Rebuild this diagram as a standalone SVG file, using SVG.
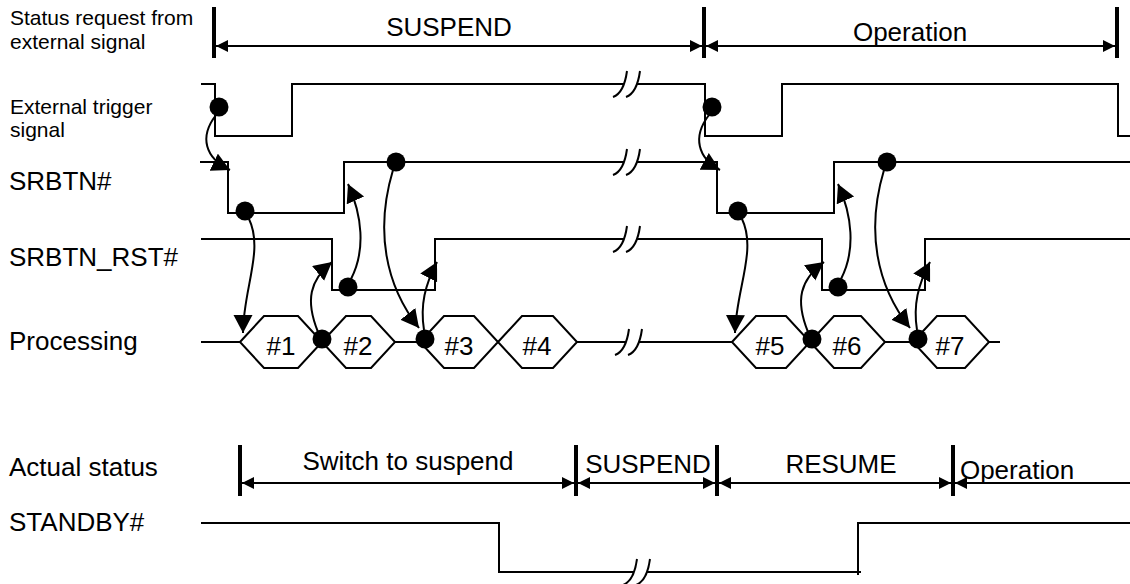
<svg xmlns="http://www.w3.org/2000/svg" width="1130" height="584" viewBox="0 0 1130 584">
  <style>
    .lbl{font-family:"Liberation Sans",Arial,sans-serif;font-size:26px;fill:#000}
    .sm{font-size:21px}
    .mid{text-anchor:middle}
    .sig{fill:none;stroke:#000;stroke-width:2}
    .bar{stroke:#000;stroke-width:4}
    .dim{stroke:#000;stroke-width:2;fill:none}
    .hex{fill:#fff;stroke:#000;stroke-width:2}
    .arc{fill:none;stroke:#000;stroke-width:2}
    .dot{fill:#000}
  </style>
  <defs>
    <!-- dimension arrowhead (both ends) -->
    <marker id="dimhead" markerUnits="userSpaceOnUse" markerWidth="12" markerHeight="12" refX="12" refY="6" orient="auto-start-reverse">
      <path d="M0,0 L12,6 L0,12 z" fill="#000"/>
    </marker>
    <!-- causal arrowhead -->
    <marker id="tip" markerUnits="userSpaceOnUse" markerWidth="20" markerHeight="20" refX="18" refY="9.5" orient="auto">
      <path d="M0,0 L18,9.5 L0,19 z" fill="#000"/>
    </marker>
    <!-- time-break mark: white gap plus two curved strokes -->
    <g id="brk">
      <path d="M-11,13 Q0,9 3,-13 L16,-13 Q13,9 2,13 Z" fill="#fff" stroke="none"/>
      <path d="M-11,13 Q0,9 3,-13 M2,13 Q13,9 16,-13" fill="none" stroke="#000" stroke-width="2"/>
    </g>
  </defs>

  <!-- row labels -->
  <g id="labels">
    <text class="lbl sm" x="10" y="25">Status request from</text>
    <text class="lbl sm" x="10" y="49">external signal</text>
    <text class="lbl sm" x="10" y="114">External trigger</text>
    <text class="lbl sm" x="10" y="137">signal</text>
    <text class="lbl" x="9" y="190">SRBTN#</text>
    <text class="lbl" x="9" y="266">SRBTN_RST#</text>
    <text class="lbl" x="9" y="350">Processing</text>
    <text class="lbl" x="9" y="476">Actual status</text>
    <text class="lbl" x="9" y="531">STANDBY#</text>
  </g>

  <!-- status request spans -->
  <g id="request">
    <line class="bar" x1="214" y1="7" x2="214" y2="58"/>
    <line class="bar" x1="704" y1="7" x2="704" y2="58"/>
    <line class="bar" x1="1117" y1="7" x2="1117" y2="58"/>
    <line class="dim" x1="216" y1="46" x2="702" y2="46" marker-start="url(#dimhead)" marker-end="url(#dimhead)"/>
    <line class="dim" x1="706" y1="46" x2="1115" y2="46" marker-start="url(#dimhead)" marker-end="url(#dimhead)"/>
    <text class="lbl mid" x="449" y="36">SUSPEND</text>
    <text class="lbl mid" x="910" y="41">Operation</text>
  </g>

  <!-- signal waveforms -->
  <g id="waves">
    <path id="trigger" class="sig" d="M201,84 H215 V136 H292 V84 H705 V136 H782 V84 H1118 V136 H1130"/>
    <path id="srbtn" class="sig" d="M200,162 H228 V213 H344 V162 H717 V213 H834 V162 H1130"/>
    <path id="srbtn-rst" class="sig" d="M201,239 H332 V290 H435 V239 H822 V290 H925 V239 H1130"/>
    <path id="standby" class="sig" d="M201,523 H499 V572 H861 M858,575 V523 H1130"/>
    <path id="proc-line" class="sig" d="M201,342 H240 M395,342 H420 M577,342 H732 M885,342 H913 M989,342 H1000"/>
    <use href="#brk" x="624" y="84"/>
    <use href="#brk" x="624" y="162"/>
    <use href="#brk" x="624" y="239"/>
    <use href="#brk" x="626" y="342"/>
    <use href="#brk" x="634" y="572"/>
  </g>

  <!-- processing steps -->
  <g id="step1"><polygon class="hex" points="240,342 264,316 298,316 322,342 298,368 264,368"/><text class="lbl mid" x="281" y="355">#1</text></g>
  <g id="step2"><polygon class="hex" points="322,342 346,316 371,316 395,342 371,368 346,368"/><text class="lbl mid" x="358" y="355">#2</text></g>
  <g id="step3"><polygon class="hex" points="420,342 444,316 474,316 498,342 474,368 444,368"/><text class="lbl mid" x="459" y="355">#3</text></g>
  <g id="step4"><polygon class="hex" points="498,342 522,316 553,316 577,342 553,368 522,368"/><text class="lbl mid" x="537" y="355">#4</text></g>
  <g id="step5"><polygon class="hex" points="732,342 756,316 786,316 810,342 786,368 756,368"/><text class="lbl mid" x="770" y="355">#5</text></g>
  <g id="step6"><polygon class="hex" points="810,342 834,316 861,316 885,342 861,368 834,368"/><text class="lbl mid" x="847" y="355">#6</text></g>
  <g id="step7"><polygon class="hex" points="913,342 937,316 965,316 989,342 965,368 937,368"/><text class="lbl mid" x="950" y="355">#7</text></g>

  <!-- actual status spans -->
  <g id="status">
    <line class="bar" x1="240" y1="445" x2="240" y2="496"/>
    <line class="bar" x1="576" y1="445" x2="576" y2="496"/>
    <line class="bar" x1="717" y1="445" x2="717" y2="496"/>
    <line class="bar" x1="953" y1="445" x2="953" y2="496"/>
    <line class="dim" x1="242" y1="483" x2="574" y2="483" marker-start="url(#dimhead)" marker-end="url(#dimhead)"/>
    <line class="dim" x1="578" y1="483" x2="715" y2="483" marker-start="url(#dimhead)" marker-end="url(#dimhead)"/>
    <line class="dim" x1="719" y1="483" x2="951" y2="483" marker-start="url(#dimhead)" marker-end="url(#dimhead)"/>
    <line class="dim" x1="955" y1="483" x2="1130" y2="483" marker-start="url(#dimhead)"/>
    <text class="lbl mid" x="408" y="470">Switch to suspend</text>
    <text class="lbl mid" x="648" y="473">SUSPEND</text>
    <text class="lbl mid" x="841" y="473">RESUME</text>
    <text class="lbl mid" x="1017" y="479">Operation</text>
  </g>

  <!-- cause/effect connectors -->
  <g id="connectors">
    <path class="arc" marker-end="url(#tip)" d="M216,115 C199,137 205,158 230,170"/>
    <path class="arc" marker-end="url(#tip)" d="M249,219 C264,250 243,290 243,333"/>
    <path class="arc" marker-end="url(#tip)" d="M318,332 C305,300 310,280 332,262"/>
    <path class="arc" marker-end="url(#tip)" d="M351,279 C366,250 362,215 348,184"/>
    <path class="arc" marker-end="url(#tip)" d="M393,170 C375,230 385,285 419,328"/>
    <path class="arc" marker-end="url(#tip)" d="M424,330 C420,305 425,285 437,262"/>
    <path class="arc" marker-end="url(#tip)" d="M709,115 C692,137 698,158 720,170"/>
    <path class="arc" marker-end="url(#tip)" d="M742,219 C757,250 736,290 735,333"/>
    <path class="arc" marker-end="url(#tip)" d="M808,332 C795,300 800,280 824,262"/>
    <path class="arc" marker-end="url(#tip)" d="M841,279 C856,250 852,215 838,184"/>
    <path class="arc" marker-end="url(#tip)" d="M884,170 C866,230 876,285 910,328"/>
    <path class="arc" marker-end="url(#tip)" d="M917,330 C913,305 918,285 930,262"/>
  </g>

  <!-- event dots -->
  <g id="events">
    <circle class="dot" cx="219" cy="107" r="9.5"/>
    <circle class="dot" cx="245" cy="211" r="9.5"/>
    <circle class="dot" cx="396" cy="162" r="9.5"/>
    <circle class="dot" cx="348" cy="287" r="9.5"/>
    <circle class="dot" cx="322" cy="339" r="9.5"/>
    <circle class="dot" cx="425" cy="339" r="9.5"/>
    <circle class="dot" cx="712" cy="107" r="9.5"/>
    <circle class="dot" cx="738" cy="211" r="9.5"/>
    <circle class="dot" cx="887" cy="162" r="9.5"/>
    <circle class="dot" cx="838" cy="287" r="9.5"/>
    <circle class="dot" cx="812" cy="339" r="9.5"/>
    <circle class="dot" cx="918" cy="339" r="9.5"/>
  </g>
</svg>
